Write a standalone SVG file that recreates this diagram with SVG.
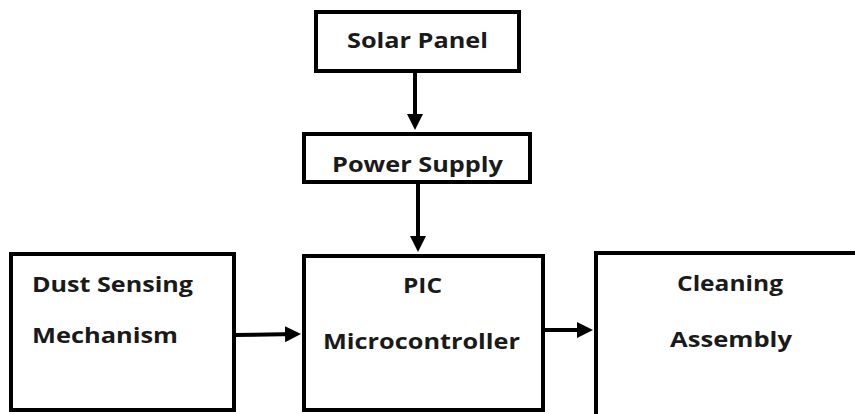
<svg xmlns="http://www.w3.org/2000/svg" width="855" height="414" viewBox="0 0 855 414">
<style>
.box{fill:#fff;stroke:#000;stroke-width:4}
.lbl{font-family:"Open Sans","Liberation Sans",sans-serif;font-weight:bold;font-size:22px;fill:#1a1a1a}
.conn{stroke:#000;stroke-width:4;fill:none}
</style>
<defs>
<marker id="ah" markerWidth="4" markerHeight="4" refX="3" refY="2" orient="auto" markerUnits="strokeWidth">
<path d="M0,0 L4,2 L0,4 Z" fill="#000"/>
</marker>
</defs>
<rect width="855" height="414" fill="#fff"/>
<g id="solar">
<rect class="box" x="316" y="12" width="203" height="59"/>
<text class="lbl" x="347" y="48" textLength="141" lengthAdjust="spacingAndGlyphs">Solar Panel</text>
</g>
<g id="power">
<rect class="box" x="304" y="134" width="226" height="48"/>
<text class="lbl" x="332" y="172" textLength="171" lengthAdjust="spacingAndGlyphs">Power Supply</text>
</g>
<g id="dust">
<rect class="box" x="11" y="254" width="223" height="156"/>
<text class="lbl" x="32" y="292" textLength="161" lengthAdjust="spacingAndGlyphs">Dust Sensing</text>
<text class="lbl" x="32" y="343" textLength="146" lengthAdjust="spacingAndGlyphs">Mechanism</text>
</g>
<g id="pic">
<rect class="box" x="304" y="256" width="239" height="154"/>
<text class="lbl" x="403" y="293" textLength="39" lengthAdjust="spacingAndGlyphs">PIC</text>
<text class="lbl" x="323" y="349" textLength="197" lengthAdjust="spacingAndGlyphs">Microcontroller</text>
</g>
<g id="cleaning">
<rect class="box" x="596" y="253" width="262" height="166"/>
<text class="lbl" x="677" y="291" textLength="106" lengthAdjust="spacingAndGlyphs">Cleaning</text>
<text class="lbl" x="670" y="347" textLength="122" lengthAdjust="spacingAndGlyphs">Assembly</text>
</g>
<g id="connectors">
<line class="conn" x1="415" y1="71" x2="415" y2="126" marker-end="url(#ah)"/>
<line class="conn" x1="418" y1="182" x2="418" y2="248" marker-end="url(#ah)"/>
<line class="conn" x1="234" y1="335" x2="297" y2="334" marker-end="url(#ah)"/>
<line class="conn" x1="543" y1="330" x2="589" y2="330" marker-end="url(#ah)"/>
</g>
</svg>
